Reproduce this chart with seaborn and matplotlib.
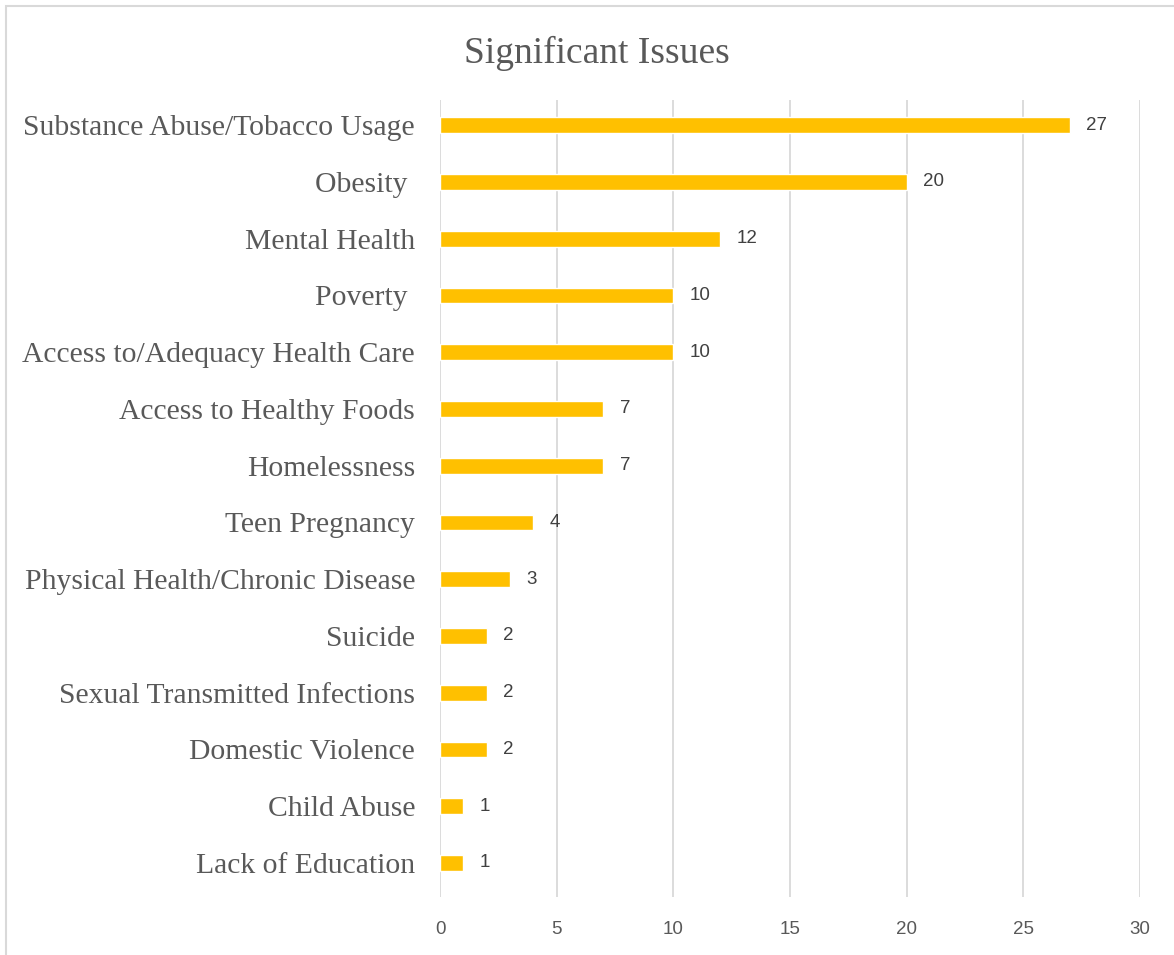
import pandas as pd
import matplotlib.pyplot as plt
import seaborn as sns
from matplotlib.patches import Rectangle

# --- Data ---
issues = [
    "Substance Abuse/Tobacco Usage",
    "Obesity ",
    "Mental Health",
    "Poverty ",
    "Access to/Adequacy Health Care",
    "Access to Healthy Foods",
    "Homelessness",
    "Teen Pregnancy",
    "Physical Health/Chronic Disease",
    "Suicide",
    "Sexual Transmitted Infections",
    "Domestic Violence",
    "Child Abuse",
    "Lack of Education",
]
counts = [27, 20, 12, 10, 10, 7, 7, 4, 3, 2, 2, 2, 1, 1]
x_ticks = [0, 5, 10, 15, 20, 25, 30]

df = pd.DataFrame({"issue": issues, "count": counts})

sns.set_style("white")
serif = ["Liberation Serif", "DejaVu Serif"]
sans = ["Liberation Sans", "DejaVu Sans"]

fig = plt.figure(figsize=(11.74, 9.55), dpi=100)
ax = fig.add_axes([0.3748, 0.0607, 0.5963, 0.8343])

sns.barplot(data=df, x="count", y="issue", color="#FFC000", width=0.28,
            saturation=1, ax=ax)

# value labels
for i, v in enumerate(counts):
    ax.text(v + 0.7, i, str(v), va="center", ha="left",
            fontsize=13.5, color="#404040", family=sans)

ax.set_xlim(0, 30)
ax.set_ylim(13.6, -0.44)
ax.set_xticks(x_ticks)
ax.set_xticklabels([str(t) for t in x_ticks], family=sans, fontsize=13.5,
                   color="#595959")
ax.set_yticks(range(len(issues)))
ax.set_yticklabels(issues, family=serif, fontsize=21.3, color="#595959")
ax.tick_params(axis="x", length=0, pad=17)
ax.tick_params(axis="y", length=0, pad=18)
ax.set_xlabel("")
ax.set_ylabel("")

ax.grid(axis="x", color="#d9d9d9", linewidth=1.3)
ax.set_axisbelow(True)
for s in ax.spines.values():
    s.set_visible(False)

fig.text(0.508, 0.944, "Significant Issues", ha="center", va="center",
         fontsize=27, color="#595959", family=serif)

# chart border (left and top edges visible, right/bottom run off the image)
fig.patches.append(Rectangle((6 / 1174, -0.1), 1.1, 1.1 - 6 / 955,
                             transform=fig.transFigure, fill=False,
                             edgecolor="#d9d9d9", linewidth=1.5))

plt.savefig("out.png", dpi=100)
